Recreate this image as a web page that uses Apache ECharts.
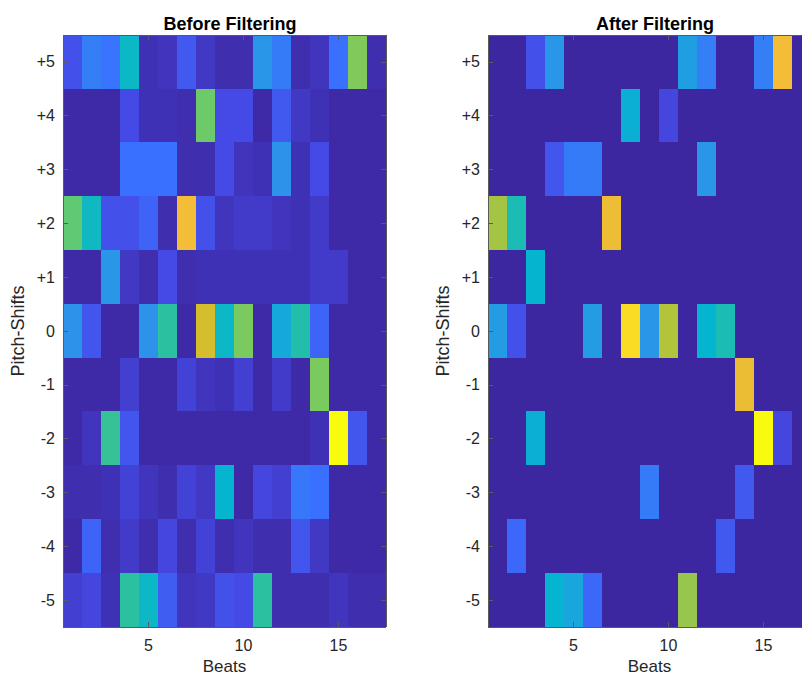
<!DOCTYPE html>
<html>
<head>
<meta charset="utf-8">
<script src="https://cdn.jsdelivr.net/npm/echarts@6/dist/echarts.min.js"></script>
<style>
html,body{margin:0;padding:0;background:#fff;}
#chart{width:802px;height:675px;}
#chart svg path{shape-rendering:crispEdges;}
</style>
</head>
<body>
<div id="chart"></div>
<script>
// Categories
var beats = ['1','2','3','4','5','6','7','8','9','10','11','12','13','14','15','16','17'];
var pitchShifts = ['-5','-4','-3','-2','-1','0','+1','+2','+3','+4','+5']; // bottom -> top
var beatTickLabels = ['5','10','15'];

// Before filtering: rows listed from +5 (top) down to -5 (bottom), 17 beats each
var beforeFiltering = [
  [0.12,0.24,0.21,0.42,0.03,0.04,0.14,0.05,0.02,0.02,0.30,0.23,0.02,0.04,0.20,0.63,0.02], // +5
  [0.01,0.01,0.01,0.10,0.03,0.03,0.02,0.60,0.10,0.10,0.01,0.14,0.05,0.03,0.01,0.01,0.01], // +4
  [0.01,0.01,0.01,0.20,0.20,0.20,0.02,0.02,0.10,0.04,0.03,0.29,0.03,0.10,0.01,0.01,0.01], // +3
  [0.58,0.43,0.12,0.12,0.17,0.02,0.88,0.12,0.04,0.06,0.06,0.04,0.03,0.06,0.01,0.01,0.01], // +2
  [0.01,0.01,0.30,0.05,0.02,0.10,0.02,0.03,0.03,0.03,0.03,0.03,0.03,0.06,0.06,0.01,0.01], // +1
  [0.29,0.13,0.01,0.01,0.29,0.50,0.01,0.79,0.42,0.62,0.01,0.36,0.48,0.17,0.01,0.01,0.01], //  0
  [0.01,0.01,0.01,0.07,0.01,0.01,0.08,0.04,0.03,0.07,0.01,0.06,0.01,0.62,0.01,0.01,0.01], // -1
  [0.01,0.04,0.52,0.13,0.01,0.01,0.01,0.01,0.01,0.01,0.01,0.01,0.01,0.03,1.00,0.13,0.01], // -2
  [0.02,0.02,0.03,0.08,0.04,0.02,0.08,0.05,0.40,0.01,0.09,0.07,0.22,0.20,0.01,0.01,0.01], // -3
  [0.01,0.17,0.02,0.06,0.02,0.09,0.02,0.08,0.02,0.04,0.02,0.02,0.13,0.05,0.01,0.01,0.01], // -4
  [0.07,0.09,0.03,0.50,0.42,0.15,0.04,0.05,0.12,0.10,0.50,0.02,0.02,0.02,0.04,0.02,0.02]  // -5
];

// After filtering: same layout
var afterFiltering = [
  [0,0,0.12,0.30,0,0,0,0,0,0,0.33,0.24,0,0,0.24,0.88,0],      // +5
  [0,0,0,0,0,0,0,0.38,0,0.09,0,0,0,0,0,0,0],                  // +4
  [0,0,0,0.13,0.23,0.23,0,0,0,0,0,0.30,0,0,0,0,0],            // +3
  [0.68,0.46,0,0,0,0,0.86,0,0,0,0,0,0,0,0,0,0],               // +2
  [0,0,0.40,0,0,0,0,0,0,0,0,0,0,0,0,0,0],                     // +1
  [0.32,0.12,0,0,0,0.32,0,0.95,0.30,0.70,0,0.40,0.46,0,0,0,0],// 0
  [0,0,0,0,0,0,0,0,0,0,0,0,0,0.85,0,0,0],                     // -1
  [0,0,0.38,0,0,0,0,0,0,0,0,0,0,0,1.00,0.09,0],               // -2
  [0,0,0,0,0,0,0,0,0.23,0,0,0,0,0.14,0,0,0],                  // -3
  [0,0.18,0,0,0,0,0,0,0,0,0,0,0.14,0,0,0,0],                  // -4
  [0,0,0,0.40,0.35,0.18,0,0,0,0,0.66,0,0,0,0,0,0]             // -5
];

var parula = ['#3d27a0','#4549e5','#3a70ff','#2a96e8','#05b5cf','#2ac0a0','#6ccb68','#b2c43a','#d8bd2c','#fbbd3b','#f9fb0e'];

function toCells(matrix){
  var out = [];
  for (var r = 0; r < matrix.length; r++){
    var yi = pitchShifts.length - 1 - r;
    for (var c = 0; c < matrix[r].length; c++){
      out.push([c, yi, matrix[r][c]]);
    }
  }
  return out;
}

var FONT = 'Liberation Sans, Arial, sans-serif';
var lineColor = '#5a5a5a';
var textColor = '#262626';

function xTickInterval(i, v){ return beatTickLabels.indexOf(v) >= 0; }

function xAx(gi, pos, show){
  return {
    type:'category', gridIndex: gi, position: pos, data: beats, z: 10,
    axisLine:{show:true, onZero:false, lineStyle:{color:lineColor, width:1}},
    axisTick:{show:true, inside:true, length:5, alignWithLabel:true, interval: xTickInterval, lineStyle:{color:lineColor}},
    axisLabel:{show:show, interval: xTickInterval, margin:10, color:textColor, fontSize:16, fontFamily:FONT},
    name: show ? 'Beats' : '', nameLocation:'middle', nameGap:31,
    nameTextStyle:{color:textColor, fontSize:17, lineHeight:17, fontFamily:FONT},
    splitLine:{show:false}
  };
}
function yAx(gi, pos, show){
  return {
    type:'category', gridIndex: gi, position: pos, data: pitchShifts, z: 10,
    axisLine:{show:true, onZero:false, lineStyle:{color:lineColor, width:1}},
    axisTick:{show:true, inside:true, length:5, alignWithLabel:true, interval:0, lineStyle:{color:lineColor}},
    axisLabel:{show:show, interval:0, margin:8, color:textColor, fontSize:16, fontFamily:FONT},
    name: show ? 'Pitch-Shifts' : '', nameLocation:'middle', nameGap:36,
    nameTextStyle:{color:textColor, fontSize:18, fontFamily:FONT},
    splitLine:{show:false}
  };
}

var chart = echarts.init(document.getElementById('chart'), null, {renderer:'svg'});
chart.setOption({
  animation:false,
  backgroundColor:'#ffffff',
  title:[
    {text:'Before Filtering', left:225, top:10, textAlign:'center',
     textStyle:{fontSize:18, fontWeight:'bold', color:'#000', fontFamily:FONT}},
    {text:'After Filtering', left:650, top:10, textAlign:'center',
     textStyle:{fontSize:18, fontWeight:'bold', color:'#000', fontFamily:FONT}}
  ],
  grid:[
    {left:63, top:35, width:323, height:592, containLabel:false, outerBoundsMode:'none'},
    {left:488, top:35, width:323, height:592, containLabel:false, outerBoundsMode:'none'}
  ],
  xAxis:[ xAx(0,'bottom',true), xAx(0,'top',false), xAx(1,'bottom',true), xAx(1,'top',false) ],
  yAxis:[ yAx(0,'left',true), yAx(0,'right',false), yAx(1,'left',true), yAx(1,'right',false) ],
  visualMap:{
    show:false, type:'continuous', min:0, max:1, dimension:2, seriesIndex:[0,1],
    inRange:{color: parula}
  },
  series:[
    {type:'heatmap', xAxisIndex:0, yAxisIndex:0, data: toCells(beforeFiltering),
     itemStyle:{borderWidth:0}, emphasis:{disabled:true}, progressive:0},
    {type:'heatmap', xAxisIndex:2, yAxisIndex:2, data: toCells(afterFiltering),
     itemStyle:{borderWidth:0}, emphasis:{disabled:true}, progressive:0}
  ]
});
</script>
</body>
</html>
